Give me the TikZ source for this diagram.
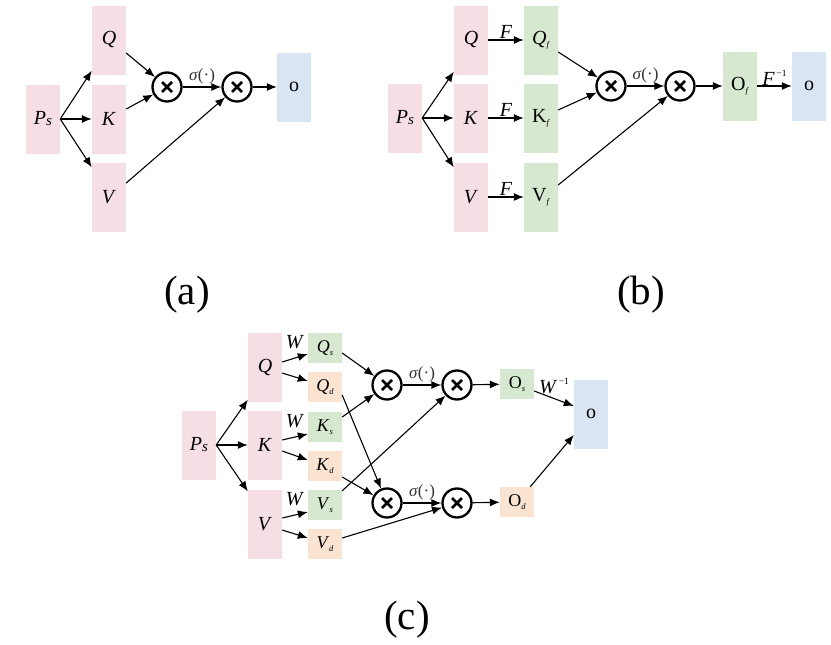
\documentclass[tikz,border=0pt]{standalone}
\usepackage{fontspec}
\setmainfont{Liberation Serif}
\usetikzlibrary{arrows.meta}

\definecolor{boxpink}{RGB}{245,222,228}
\definecolor{boxgreen}{RGB}{214,232,208}
\definecolor{boxblue}{RGB}{218,229,244}
\definecolor{boxorange}{RGB}{251,227,210}

\newcommand{\lowidx}[1]{\raisebox{-3pt}{\fontsize{8.5}{8.5}\selectfont\textit{#1}}}
\newcommand{\invsup}{\raisebox{9pt}{\fontsize{9.5}{9.5}\selectfont\,−1}}
\newcommand{\psname}{\textit{P}\raisebox{-1pt}{\fontsize{15}{15}\selectfont\textit{s}}}

\tikzset{
  blk/.style={minimum width=34pt,minimum height=69pt,inner sep=0pt,font=\fontsize{20}{20}\selectfont},
  half/.style={minimum width=34pt,minimum height=30pt,inner sep=0pt,font=\fontsize{18}{18}\selectfont},
  mult/.style={draw,circle,line width=2.3pt,minimum size=29pt,inner sep=0pt,
    path picture={\draw[line width=2.6pt]
      ([shift={(-5pt,-5pt)}]path picture bounding box.center) -- ([shift={(5pt,5pt)}]path picture bounding box.center)
      ([shift={(-5pt,5pt)}]path picture bounding box.center) -- ([shift={(5pt,-5pt)}]path picture bounding box.center);}},
  arr/.style={-{Latex[length=10pt,width=8pt]},line width=1.1pt},
  fn/.style={font=\fontsize{20}{20}\selectfont,inner sep=1pt},
  sig/.style={font=\fontsize{17}{17}\selectfont,text=black!80},
  tag/.style={font=\fontsize{41}{41}\selectfont}
}

\begin{document}
\begin{tikzpicture}[x=1pt,y=-1pt]
  \useasboundingbox (0,0) rectangle (831,645);

  % (a) plain attention
  \node[blk,fill=boxpink] (aps) at (43,119) {\psname};
  \node[blk,fill=boxpink] (aq) at (109,40) {\textit{Q}};
  \node[blk,fill=boxpink] (ak) at (109,119) {\textit{K}};
  \node[blk,fill=boxpink] (av) at (109,197) {\textit{V}};
  \node[mult] (am1) at (167,87) {};
  \node[mult] (am2) at (237,87) {};
  \node[blk,fill=boxblue] (ao) at (294,87) {o};

  \path [arr] (aps.east) edge ([yshift=4pt]aq.south west);
  \path [arr] (aps.east) edge (ak.west);
  \path [arr] (aps.east) edge ([yshift=-5pt]av.north west);
  \path [arr] ([yshift=-13pt]aq.east) edge (am1);
  \path [arr] ([yshift=10pt]ak.east) edge (am1);
  \path [arr] ([yshift=14pt]av.east) edge (am2);
  \path [arr] (am1) edge node[sig,above,inner sep=2pt] {\textit{σ}(·)} (am2);
  \path [arr] (am2) edge (ao);

  \node[tag] (taga) at (187,295) {(a)};

  % (b) Fourier domain
  \node[blk,fill=boxpink] (bps) at (405,118) {\psname};
  \node[blk,fill=boxpink] (bq) at (471,40) {\textit{Q}};
  \node[blk,fill=boxpink] (bk) at (471,118) {\textit{K}};
  \node[blk,fill=boxpink] (bv) at (471,197) {\textit{V}};
  \node[blk,fill=boxgreen] (bqf) at (541,40) {\textit{Q}\lowidx{f}};
  \node[blk,fill=boxgreen] (bkf) at (541,118) {K\lowidx{f}};
  \node[blk,fill=boxgreen] (bvf) at (541,197) {V\lowidx{f}};
  \node[mult] (bm1) at (611,86) {};
  \node[mult] (bm2) at (680,86) {};
  \node[blk,fill=boxgreen] (bof) at (740,86) {O\lowidx{f}};
  \node[blk,fill=boxblue] (bo) at (809,86) {o};

  \path [arr] (bps.east) edge ([yshift=3pt]bq.south west);
  \path [arr] (bps.east) edge (bk.west);
  \path [arr] (bps.east) edge ([yshift=-5pt]bv.north west);
  \path [arr] (bq) edge node[fn,above] {\textit{F}} (bqf);
  \path [arr] (bk) edge node[fn,above] {\textit{F}} (bkf);
  \path [arr] (bv) edge node[fn,above] {\textit{F}} (bvf);
  \path [arr] ([yshift=-12pt]bqf.east) edge (bm1);
  \path [arr] ([yshift=8pt]bkf.east) edge (bm1);
  \path [arr] ([yshift=12pt]bvf.east) edge (bm2);
  \path [arr] (bm1) edge node[sig,above,inner sep=2pt] {\textit{σ}(·)} (bm2);
  \path [arr] (bm2) edge (bof);
  \path [arr] (bof) edge node[fn,above,inner sep=0pt] {\textit{F}\invsup} (bo);

  \node[tag] (tagb) at (641,295) {(b)};

  % (c) static / dynamic branches
  \node[blk,fill=boxpink] (cps) at (199,445) {\psname};
  \node[blk,fill=boxpink] (cq) at (265,367) {\textit{Q}};
  \node[blk,fill=boxpink] (ck) at (265,445) {\textit{K}};
  \node[blk,fill=boxpink] (cv) at (265,524) {\textit{V}};
  \node[half,fill=boxgreen] (cqs) at (325,348) {\textit{Q}\lowidx{s}};
  \node[half,fill=boxorange] (cqd) at (325,387) {\textit{Q}\lowidx{d}};
  \node[half,fill=boxgreen] (cks) at (325,427) {\textit{K}\lowidx{s}};
  \node[half,fill=boxorange] (ckd) at (325,466) {\textit{K}\lowidx{d}};
  \node[half,fill=boxgreen] (cvs) at (325,505) {\textit{V}\lowidx{s}};
  \node[half,fill=boxorange] (cvd) at (325,544) {\textit{V}\lowidx{d}};
  \node[mult] (cm1) at (387,385) {};
  \node[mult] (cm2) at (387,503) {};
  \node[mult] (cm3) at (457,385) {};
  \node[mult] (cm4) at (457,503) {};
  \node[half,fill=boxgreen] (cos) at (517,384) {O\lowidx{s}};
  \node[half,fill=boxorange] (cod) at (517,502) {O\lowidx{d}};
  \node[blk,fill=boxblue] (co) at (591,414) {o};

  \path [arr] (cps.east) edge ([yshift=2pt]cq.south west);
  \path [arr] (cps.east) edge (ck.west);
  \path [arr] (cps.east) edge ([yshift=-2pt]cv.north west);

  \path [arr] ([yshift=5pt]cq.east) edge node[fn,above=9pt,inner sep=0pt] {\textit{W}} ([yshift=-6pt]cqs.west);
  \path [arr] ([yshift=-6pt]cq.east) edge ([yshift=6pt]cqd.west);
  \path [arr] ([yshift=5pt]ck.east) edge node[fn,above=9pt,inner sep=0pt] {\textit{W}} ([yshift=-7pt]cks.west);
  \path [arr] ([yshift=-6pt]ck.east) edge ([yshift=6pt]ckd.west);
  \path [arr] ([yshift=6pt]cv.east) edge node[fn,above=9pt,inner sep=0pt] {\textit{W}} ([yshift=-7pt]cvs.west);
  \path [arr] ([yshift=-6pt]cv.east) edge ([yshift=6pt]cvd.west);

  \path [arr] ([yshift=-5pt]cqs.east) edge (cm1);
  \path [arr] ([yshift=10pt]cks.east) edge (cm1);
  \path [arr] ([yshift=-8pt]cqd.east) edge (cm2);
  \path [arr] ([yshift=-11pt]ckd.east) edge (cm2);
  \path [arr] ([yshift=-1pt]cvs.north east) edge (cm3);
  \path [arr] ([yshift=6pt]cvd.east) edge (cm4);

  \path [arr] (cm1) edge node[sig,above,inner sep=2pt] {\textit{σ}(·)} (cm3);
  \path [arr] (cm2) edge node[sig,above,inner sep=2pt] {\textit{σ}(·)} (cm4);
  \path [arr] (cm3) edge (cos);
  \path [arr] (cm4) edge (cod);
  \path [arr] ([yshift=-7pt]cos.east) edge node[fn,above=4pt,inner sep=0pt] {\textit{W}\invsup} ([yshift=8pt]co.west);
  \path [arr] ([xshift=-4pt]cod.north east) edge ([yshift=-21pt]co.west);

  \node[tag] (tagc) at (407,620) {(c)};
\end{tikzpicture}
\end{document}
